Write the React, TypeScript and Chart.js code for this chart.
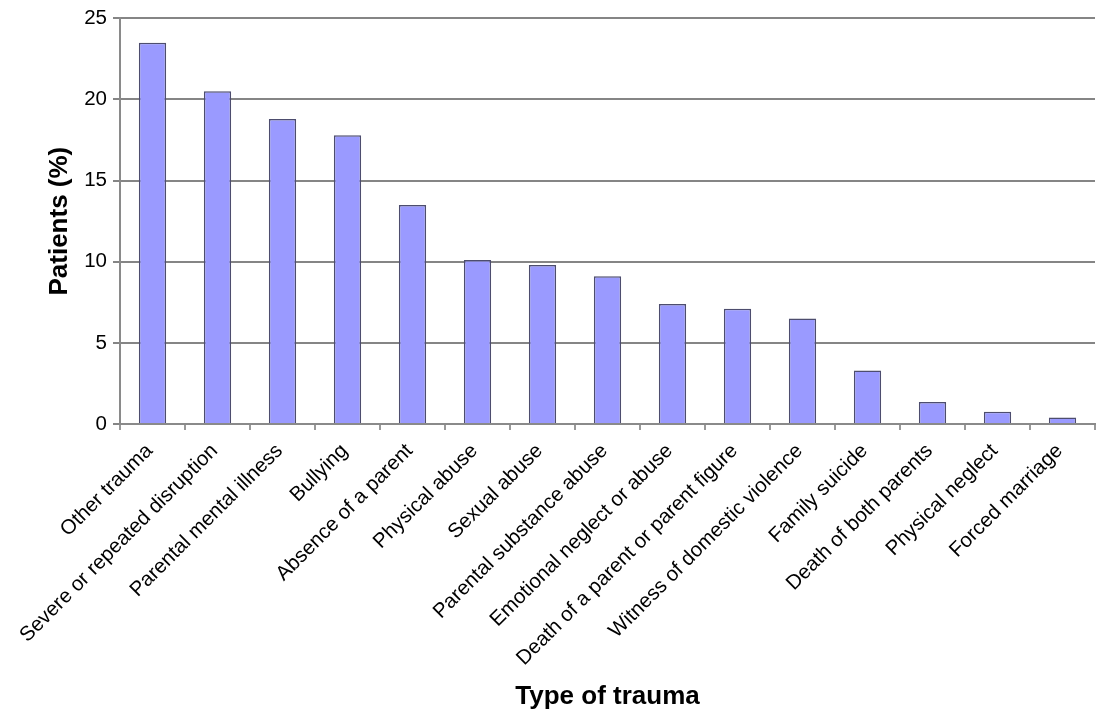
import React, { useEffect, useRef } from "react";
import { Chart, registerables } from "chart.js";

Chart.register(...registerables);

const categories = [
  "Other trauma",
  "Severe or repeated disruption",
  "Parental mental illness",
  "Bullying",
  "Absence of a parent",
  "Physical abuse",
  "Sexual abuse",
  "Parental substance abuse",
  "Emotional neglect or abuse",
  "Death of a parent or parent figure",
  "Witness of domestic violence",
  "Family suicide",
  "Death of both parents",
  "Physical neglect",
  "Forced marriage",
];

const patientsPct = [23.5, 20.5, 18.8, 17.8, 13.5, 10.1, 9.8, 9.1, 7.4, 7.1, 6.5, 3.3, 1.35, 0.75, 0.4];

const yMin = 0;
const yMax = 25;
const yStep = 5;

const xTitle = "Type of trauma";
const yTitle = "Patients (%)";

const FONT = "'Liberation Sans', Arial, Helvetica, sans-serif";

export default function App() {
  const ref = useRef<HTMLCanvasElement | null>(null);

  useEffect(() => {
    if (!ref.current) return;
    const chart = new Chart(ref.current, {
      type: "bar",
      data: {
        labels: categories,
        datasets: [
          {
            data: patientsPct,
            backgroundColor: "#9a9aff",
            borderColor: "#4d4d6e",
            borderWidth: 1.5,
            barPercentage: 0.42,
            categoryPercentage: 1,
          },
        ],
      },
      options: {
        responsive: false,
        animation: false,
        layout: { padding: { top: 18, right: 3, left: 0, bottom: 0 } },
        plugins: {
          legend: { display: false },
          tooltip: { enabled: false },
          title: { display: false },
        },
        scales: {
          x: {
            grid: {
              display: true,
              drawOnChartArea: false,
              drawTicks: true,
              tickLength: 6,
              color: "#999",
              lineWidth: 2,
            },
            border: { display: true, color: "#8a8a8a", width: 2 },
            ticks: {
              color: "#000",
              font: { family: FONT, size: 20.5 },
              minRotation: 45,
              maxRotation: 45,
              autoSkip: false,
              padding: 9,
              labelOffset: -3,
            },
            title: {
              display: true,
              text: xTitle,
              color: "#000",
              font: { family: FONT, size: 26, weight: "bold" },
              padding: { top: 0, bottom: 0 },
            },
            afterFit: (scale: any) => {
              scale.height = 288;
            },
          },
          y: {
            min: yMin,
            max: yMax,
            grid: {
              color: "#858585",
              lineWidth: 2,
              tickLength: 7,
            },
            border: { display: true, color: "#8a8a8a", width: 2 },
            ticks: {
              stepSize: yStep,
              color: "#000",
              font: { family: FONT, size: 20.5 },
              padding: 6,
            },
            title: {
              display: true,
              text: yTitle,
              color: "#000",
              font: { family: FONT, size: 26, weight: "bold" },
              padding: { top: 44, bottom: 0 },
            },
            afterFit: (scale: any) => {
              scale.width = 120;
            },
          },
        },
      },
    });
    return () => chart.destroy();
  }, []);

  return (
    <div style={{ position: "absolute", left: 0, top: 0, width: 1098, height: 712, background: "#fff" }}>
      <canvas ref={ref} width={1098} height={712} />
    </div>
  );
}
